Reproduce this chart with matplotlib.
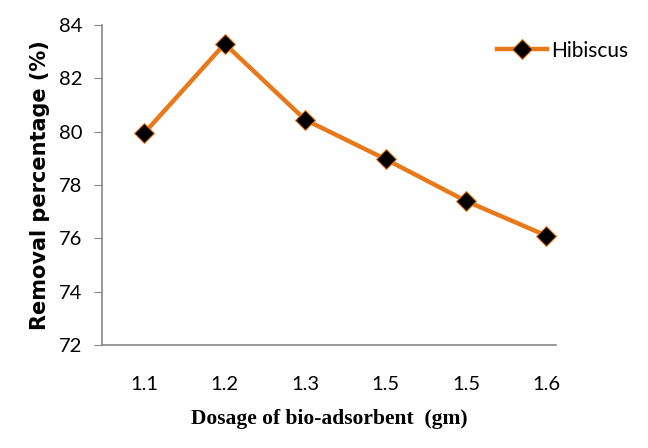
import matplotlib
matplotlib.use('Agg')
from matplotlib import pyplot as plt

# data
dosage = ['1.1', '1.2', '1.3', '1.5', '1.5', '1.6']
removal = [79.95, 83.3, 80.45, 78.97, 77.4, 76.1]
yticks = [72, 74, 76, 78, 80, 82, 84]

tickfont = 'Lato'

fig = plt.figure(figsize=(6.48, 4.48), dpi=100)
ax = fig.add_axes([0.157, 0.23, 0.701, 0.714])

x = list(range(len(dosage)))
ax.plot(x, removal, color='#E8791A', linewidth=3.2, marker='D', markersize=10,
        markerfacecolor='black', markeredgecolor='#E8791A', markeredgewidth=0.8,
        label='Hibiscus')

ax.set_xlim(-0.53, 5.12)
ax.set_ylim(72, 84)
ax.set_xticks(x)
ax.set_xticklabels(dosage, fontfamily=tickfont, fontsize=14.5)
ax.set_yticks(yticks)
ax.set_yticklabels([str(v) for v in yticks], fontfamily=tickfont, fontsize=14.5)
ax.tick_params(axis='x', length=0, pad=22)
ax.tick_params(axis='y', length=6, color='#888888', direction='out', pad=8)

for s in ['top', 'right']:
    ax.spines[s].set_visible(False)
for s in ['left', 'bottom']:
    ax.spines[s].set_color('#888888')
    ax.spines[s].set_linewidth(1.2)

ax.set_ylabel('Removal percentage (%)', fontsize=15, fontweight='bold', labelpad=6)
ax.set_xlabel('Dosage of bio-adsorbent  (gm)', fontfamily='Liberation Serif',
              fontsize=15.5, fontweight='bold', labelpad=12)

leg = ax.legend(loc='upper right', bbox_to_anchor=(1.2, 1.01), frameon=False,
                prop={'family': tickfont, 'size': 15}, handlelength=2.4,
                handletextpad=0.2)

plt.savefig('out.png', dpi=100)
